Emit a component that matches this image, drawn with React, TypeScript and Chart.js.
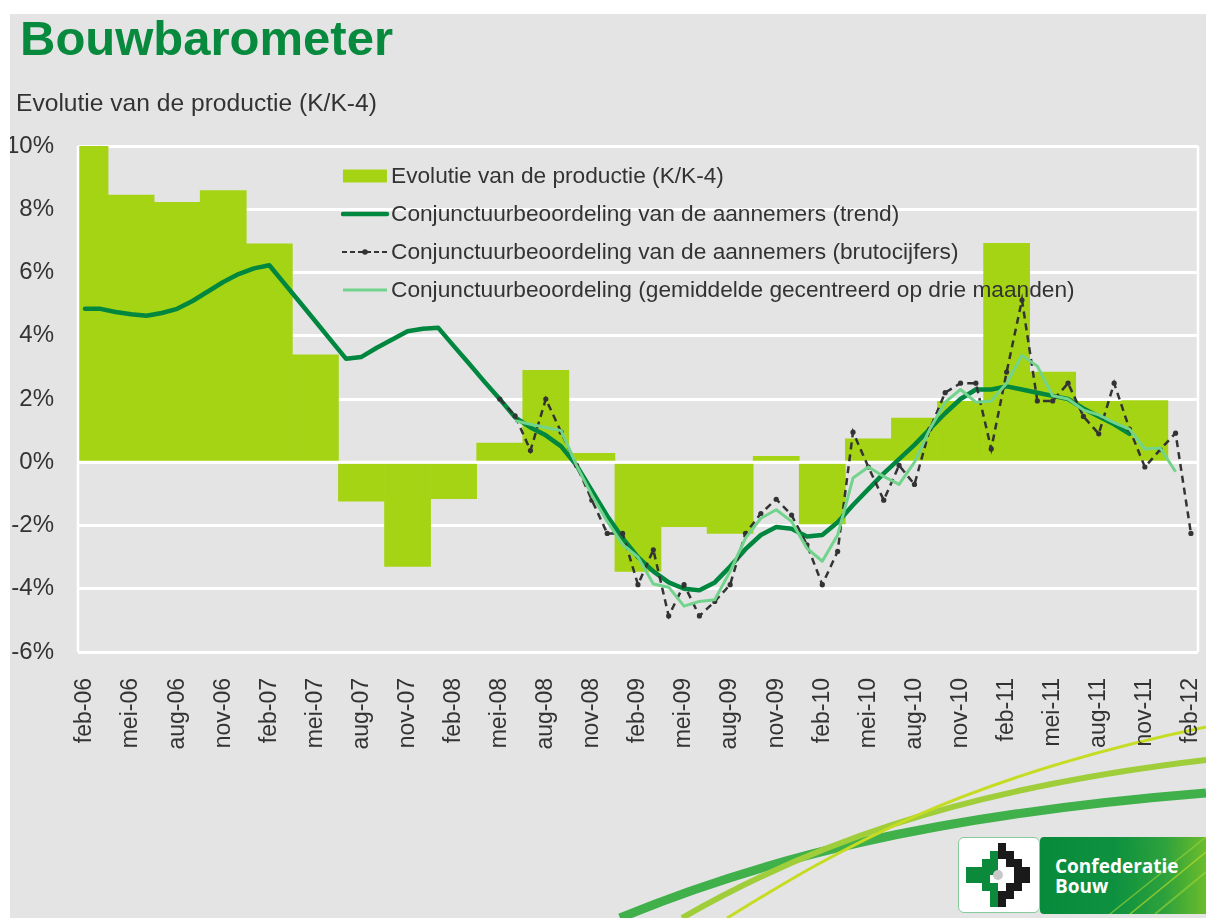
import React, { useEffect, useRef } from "react";
import { Chart, registerables } from "chart.js";

Chart.register(...registerables);

// ---------- DATA ----------
const quarterLabels = [
  "feb-06", "mei-06", "aug-06", "nov-06",
  "feb-07", "mei-07", "aug-07", "nov-07",
  "feb-08", "mei-08", "aug-08", "nov-08",
  "feb-09", "mei-09", "aug-09", "nov-09",
  "feb-10", "mei-10", "aug-10", "nov-10",
  "feb-11", "mei-11", "aug-11", "nov-11",
  "feb-12",
];

// Evolutie van de productie (K/K-4), one value per quarter starting feb-06
const productionValues = [
  10.0, 8.45, 8.22, 8.59, 6.91, 3.4, -1.23, -3.29, -1.15, 0.61, 2.91, 0.28,
  -3.45, -2.04, -2.25, 0.19, -1.95, 0.74, 1.4, 1.93, 6.92, 2.85, 1.93, 1.95,
];

// Monthly series; the start value is the month index (0 = feb-06)
const trendStart = 0;
const trendValues = [
  4.85, 4.85, 4.75, 4.68, 4.63, 4.72, 4.85, 5.1, 5.4, 5.7,
  5.95, 6.13, 6.23, 5.64, 5.05, 4.46, 3.86, 3.27, 3.33, 3.62,
  3.88, 4.14, 4.22, 4.25, 3.68, 3.12, 2.55, 2.0, 1.42, 1.1,
  0.85, 0.5, -0.1, -0.9, -1.7, -2.4, -3.0, -3.45, -3.8, -4.0,
  -4.05, -3.8, -3.3, -2.75, -2.3, -2.05, -2.1, -2.35, -2.3, -1.9,
  -1.35, -0.85, -0.35, 0.1, 0.55, 1.05, 1.55, 2.0, 2.3, 2.3,
  2.4, 2.3, 2.2, 2.1, 2.0, 1.7, 1.45, 1.2, 0.9,
];

const brutoStart = 27;
const brutoValues = [
  2.0, 1.47, 0.37, 2.0, 0.95, -0.1, -1.2, -2.25, -2.25, -3.87,
  -2.77, -4.86, -3.87, -4.86, -4.4, -3.87, -2.25, -1.62, -1.17, -1.67,
  -2.61, -3.87, -2.82, 0.95, -0.15, -1.2, -0.1, -0.7, 1.05, 2.2,
  2.5, 2.5, 0.42, 2.85, 5.13, 1.94, 1.94, 2.5, 1.45, 0.9,
  2.5, 1.05, -0.15, 0.4, 0.92, -2.25,
];

const avgStart = 28;
const avgValues = [
  1.31, 1.2, 1.1, 1.0, -0.1, -1.04, -1.87, -2.6, -3.0, -3.85,
  -3.95, -4.55, -4.4, -4.35, -3.45, -2.4, -1.77, -1.5, -1.87, -2.72,
  -3.13, -2.3, -0.5, -0.15, -0.45, -0.7, 0.0, 1.05, 1.9, 2.3,
  1.9, 1.94, 2.5, 3.38, 3.04, 2.1, 2.0, 1.65, 1.5, 1.25,
  1.05, 0.42, 0.45, -0.3,
];

const seriesNames = [
  "Evolutie van de productie (K/K-4)",
  "Conjunctuurbeoordeling van de aannemers (trend)",
  "Conjunctuurbeoordeling van de aannemers (brutocijfers)",
  "Conjunctuurbeoordeling (gemiddelde gecentreerd op drie maanden)",
];

const yTicks = { min: -6, max: 10, step: 2 };
const monthsPerQuarter = 3;

// ---------- STYLE ----------
const FONT = "'Liberation Sans', Arial, Helvetica, sans-serif";
const BAR_COLOR = "#a5d414";
const TREND_COLOR = "#00873f";
const BRUTO_COLOR = "#333333";
const AVG_COLOR = "#72d48c";
const TEXT_COLOR = "#333333";
const PANEL = "#e4e4e4";

const plotFrame = {
  id: "plotFrame",
  afterDatasetDraw(chart: any, args: any) {
    if (args.index !== 0) return;
    const { ctx, chartArea: a, scales } = chart;
    const y0 = scales.y.getPixelForValue(0);
    ctx.save();
    ctx.strokeStyle = "#ffffff";
    ctx.lineWidth = 3;
    ctx.beginPath();
    ctx.moveTo(a.left, y0);
    ctx.lineTo(a.right, y0);
    ctx.stroke();
    ctx.lineWidth = 2.5;
    ctx.beginPath();
    ctx.moveTo(a.left, a.top);
    ctx.lineTo(a.left, a.bottom);
    ctx.moveTo(a.right, a.top);
    ctx.lineTo(a.right, a.bottom);
    ctx.stroke();
    ctx.restore();
  },
};

function ChartCanvas() {
  const ref = useRef<HTMLCanvasElement | null>(null);
  useEffect(() => {
    if (!ref.current) return;
    Chart.defaults.font.family = FONT;
    const chart = new Chart(ref.current, {
      type: "bar",
      data: {
        datasets: [
          {
            type: "bar",
            label: seriesNames[0],
            data: productionValues.map((v, i) => ({ x: i * monthsPerQuarter, y: v })),
            backgroundColor: BAR_COLOR,
            borderWidth: 0,
            categoryPercentage: 1,
            barPercentage: 1,
            order: 4,
          } as any,
          {
            type: "line",
            label: seriesNames[1],
            data: trendValues.map((v, i) => ({ x: trendStart + i, y: v })),
            borderColor: TREND_COLOR,
            borderWidth: 4.5,
            pointRadius: 0,
            tension: 0,
            borderCapStyle: "round",
            borderJoinStyle: "round",
            order: 3,
          } as any,
          {
            type: "line",
            label: seriesNames[2],
            data: brutoValues.map((v, i) => ({ x: brutoStart + i, y: v })),
            borderColor: BRUTO_COLOR,
            borderWidth: 2.5,
            borderDash: [7, 5],
            pointRadius: 2.6,
            pointBackgroundColor: BRUTO_COLOR,
            pointBorderWidth: 0,
            tension: 0,
            order: 2,
          } as any,
          {
            type: "line",
            label: seriesNames[3],
            data: avgValues.map((v, i) => ({ x: avgStart + i, y: v })),
            borderColor: AVG_COLOR,
            borderWidth: 3,
            pointRadius: 0,
            tension: 0,
            borderJoinStyle: "round",
            order: 1,
          } as any,
        ],
      },
      options: {
        responsive: false,
        animation: false,
        layout: { padding: { left: 10, right: 8, top: 146, bottom: 0 } },
        plugins: {
          legend: { display: false },
          tooltip: { enabled: false },
          title: { display: false },
        },
        scales: {
          x: {
            type: "linear",
            min: -0.456,
            max: 72.46,
            offset: false,
            grid: { display: false },
            border: { display: false },
            afterBuildTicks: (axis: any) => {
              axis.ticks = quarterLabels.map((_, i) => ({ value: i * monthsPerQuarter }));
            },
            afterFit: (axis: any) => {
              axis.height = 148;
              axis.paddingLeft = 0;
              axis.paddingRight = 0;
            },
            ticks: {
              autoSkip: false,
              minRotation: 90,
              maxRotation: 90,
              padding: 18,
              color: TEXT_COLOR,
              font: { size: 23, family: FONT },
              callback: (v: any) => quarterLabels[Math.round(Number(v) / monthsPerQuarter)] ?? "",
            },
          },
          y: {
            type: "linear",
            min: yTicks.min,
            max: yTicks.max,
            grid: { color: "#ffffff", lineWidth: 3, drawTicks: false },
            border: { display: false },
            afterFit: (axis: any) => {
              axis.width = 68;
              axis.paddingTop = 0;
              axis.paddingBottom = 0;
            },
            ticks: {
              stepSize: yTicks.step,
              padding: 24,
              color: TEXT_COLOR,
              font: { size: 24, family: FONT },
              callback: (v: any) => `${v}%`,
            },
          },
        },
      } as any,
      plugins: [plotFrame],
    });
    return () => chart.destroy();
  }, []);
  return (
    <canvas
      ref={ref}
      width={1206}
      height={800}
      style={{ position: "absolute", left: 0, top: 0, width: 1206, height: 800 }}
    />
  );
}

function LegendSwatch({ kind }: { kind: number }) {
  return (
    <svg width={50} height={16} style={{ display: "block" }}>
      {kind === 0 && <rect x={2} y={1.5} width={44} height={13} fill={BAR_COLOR} />}
      {kind === 1 && (
        <line x1={2} y1={8} x2={46} y2={8} stroke={TREND_COLOR} strokeWidth={4.5} strokeLinecap="round" />
      )}
      {kind === 2 && (
        <g>
          <line x1={1} y1={8} x2={47} y2={8} stroke={BRUTO_COLOR} strokeWidth={2} strokeDasharray="5 3" />
          <circle cx={24} cy={8} r={2.8} fill={BRUTO_COLOR} />
        </g>
      )}
      {kind === 3 && <line x1={2} y1={8} x2={46} y2={8} stroke={AVG_COLOR} strokeWidth={3} />}
    </svg>
  );
}

const legendBaselines = [183, 221, 259, 297];

function Legend() {
  const fs = 22.7;
  return (
    <>
      {seriesNames.map((name, i) => (
        <React.Fragment key={name}>
          <div style={{ position: "absolute", left: 341, top: legendBaselines[i] - 7.5 - 8 }}>
            <LegendSwatch kind={i} />
          </div>
          <div
            style={{
              position: "absolute",
              left: 391,
              top: legendBaselines[i] - 0.8465 * fs,
              fontFamily: FONT,
              fontSize: fs,
              lineHeight: 1,
              color: TEXT_COLOR,
              whiteSpace: "nowrap",
            }}
          >
            {name}
          </div>
        </React.Fragment>
      ))}
    </>
  );
}

function Decorations() {
  return (
    <svg
      width={1206}
      height={918}
      style={{ position: "absolute", left: 0, top: 0 }}
    >
      <path d="M620 918 C 760 860, 930 815, 1206 793" stroke="#3fb04a" strokeWidth={9} fill="none" />
      <path d="M682 918 C 800 850, 950 790, 1206 760" stroke="#9fce3a" strokeWidth={6} fill="none" />
      <path d="M727 918 C 830 855, 950 780, 1206 727" stroke="#c6dc22" strokeWidth={3} fill="none" />
    </svg>
  );
}

const iconGreen: [number, number][] = [
  [3, 1], [2, 2], [3, 2], [0, 3], [1, 3], [2, 3], [3, 3], [0, 4], [1, 4], [2, 4], [2, 5], [3, 5], [3, 6], [3, 7],
];
const iconBlack: [number, number][] = [
  [4, 0], [4, 1], [5, 1], [5, 2], [6, 2], [6, 3], [7, 3], [6, 4], [7, 4], [5, 5], [6, 5], [4, 6], [5, 6], [4, 7],
];

function Logo() {
  const cell = 8;
  return (
    <>
      <div
        style={{
          position: "absolute",
          left: 958,
          top: 837,
          width: 80,
          height: 74,
          background: "#ffffff",
          border: "1.5px solid #86c99a",
          borderRadius: 6,
        }}
      >
        <svg width={80} height={74} style={{ position: "absolute", left: 0, top: 0 }}>
          {iconGreen.map(([c, r]) => (
            <rect key={`g${c}-${r}`} x={7 + c * cell} y={5 + r * cell} width={cell} height={cell} fill="#0b8a3c" />
          ))}
          {iconBlack.map(([c, r]) => (
            <rect key={`b${c}-${r}`} x={7 + c * cell} y={5 + r * cell} width={cell} height={cell} fill="#1a1a1a" />
          ))}
          <circle cx={7 + 4 * cell} cy={5 + 4 * cell} r={5} fill="#c8c8c8" />
        </svg>
      </div>
      <div
        style={{
          position: "absolute",
          left: 1040,
          top: 837,
          width: 166,
          height: 77,
          background: "linear-gradient(90deg, #078a3a 0%, #0e9140 45%, #2fa23e 75%, #6cbd2c 100%)",
          borderTopLeftRadius: 4,
          borderBottomLeftRadius: 4,
          overflow: "hidden",
        }}
      >
        <svg width={166} height={77} style={{ position: "absolute", left: 0, top: 0 }}>
          <path d="M70 77 L 166 0" stroke="#8fcf3a" strokeWidth={1.5} opacity={0.7} />
          <path d="M90 77 L 166 15" stroke="#b8dc2a" strokeWidth={1.5} opacity={0.7} />
          <path d="M115 77 L 166 35" stroke="#9ad43a" strokeWidth={2} opacity={0.6} />
        </svg>
        <div
          style={{
            position: "absolute",
            left: 15,
            top: 19,
            fontFamily: "'Open Sans', 'DejaVu Sans', sans-serif",
            fontWeight: 700,
            fontSize: 19,
            lineHeight: "20px",
            color: "#ffffff",
            whiteSpace: "nowrap",
          }}
        >
          <div>Confederatie</div>
          <div>Bouw</div>
        </div>
      </div>
    </>
  );
}

export default function App() {
  return (
    <div
      style={{
        position: "absolute",
        left: 0,
        top: 0,
        width: 1206,
        height: 918,
        background: "#ffffff",
        overflow: "hidden",
      }}
    >
      <div style={{ position: "absolute", left: 10, top: 14, right: 0, bottom: 0, background: PANEL }} />
      <Decorations />
      <ChartCanvas />
      <div
        style={{
          position: "absolute",
          left: 20,
          top: 55 - 0.8465 * 49,
          fontFamily: FONT,
          fontWeight: 700,
          fontSize: 49,
          lineHeight: 1,
          color: "#078a3e",
          whiteSpace: "nowrap",
        }}
      >
        Bouwbarometer
      </div>
      <div
        style={{
          position: "absolute",
          left: 16,
          top: 112 - 0.8465 * 24.6,
          fontFamily: FONT,
          fontSize: 24.6,
          lineHeight: 1,
          color: TEXT_COLOR,
          whiteSpace: "nowrap",
        }}
      >
        Evolutie van de productie (K/K-4)
      </div>
      <Legend />
      <Logo />
    </div>
  );
}
